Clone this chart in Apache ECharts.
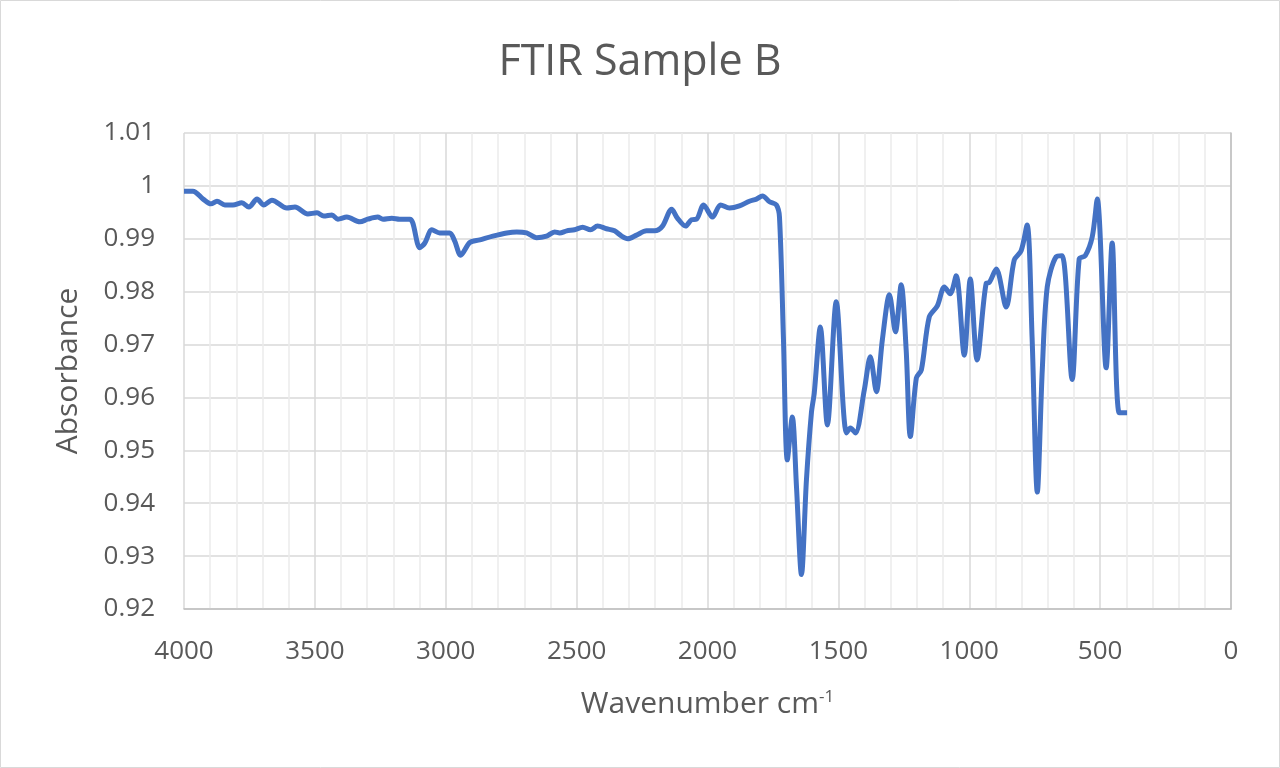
<!DOCTYPE html>
<html>
<head>
<meta charset="utf-8">
<script src="https://cdn.jsdelivr.net/npm/echarts@6/dist/echarts.min.js"></script>
<style>html,body{margin:0;padding:0;background:#fff}#c{width:1280px;height:768px}</style>
</head>
<body>
<div id="c"></div>
<script>
const wavenumbers = [4000,3966,3927,3897,3874,3844,3813,3779,3752,3721,3695,3664,3607,3576,3527,3492,3466,3435,3412,3378,3328,3298,3260,3240,3206,3176,3137,3126,3099,3080,3053,3023,2985,2966,2943,2908,2870,2820,2767,2729,2691,2653,2615,2584,2565,2538,2508,2477,2447,2420,2386,2355,2328,2305,2271,2233,2202,2172,2137,2115,2084,2061,2042,2015,1981,1950,1916,1878,1840,1813,1790,1763,1737,1725,1710,1695,1676,1660,1641,1622,1603,1592,1569,1542,1508,1469,1454,1435,1401,1378,1355,1332,1305,1282,1260,1241,1225,1202,1183,1153,1122,1095,1073,1050,1019,996,970,935,924,897,859,828,802,779,760,740,721,702,668,645,607,580,557,530,511,477,454,427,397];
const absorbance = [0.999,0.999,0.9975,0.9966,0.9971,0.9964,0.9964,0.9968,0.996,0.9975,0.9964,0.9973,0.9958,0.996,0.9947,0.9949,0.9943,0.9945,0.9937,0.9941,0.9932,0.9937,0.9941,0.9937,0.9939,0.9937,0.9937,0.993,0.9883,0.9892,0.9917,0.9911,0.9911,0.9896,0.9869,0.9893,0.9898,0.9905,0.9911,0.9913,0.9911,0.9902,0.9905,0.9913,0.9911,0.9915,0.9917,0.9922,0.9917,0.9924,0.9919,0.9915,0.9905,0.99,0.9907,0.9915,0.9915,0.9924,0.9956,0.9939,0.9924,0.9936,0.9937,0.9964,0.9941,0.9964,0.9958,0.9962,0.9971,0.9975,0.9981,0.997,0.9964,0.9941,0.9714,0.9482,0.9563,0.9431,0.9265,0.9444,0.9571,0.9609,0.9733,0.9548,0.9781,0.9533,0.9542,0.9533,0.9614,0.9677,0.9611,0.9709,0.9794,0.9724,0.9813,0.969,0.9526,0.9637,0.9652,0.9752,0.9773,0.9809,0.9796,0.983,0.968,0.9824,0.9671,0.9816,0.9817,0.9843,0.9771,0.986,0.9877,0.9926,0.9714,0.9421,0.9652,0.9809,0.9866,0.9868,0.9634,0.9862,0.9868,0.9904,0.9975,0.9656,0.9892,0.9571,0.9571];
const titleText = 'FTIR Sample B';
const xName = 'Wavenumber cm{sup|-1}';
const yName = 'Absorbance';

const FONT = '"Open Sans", "Noto Sans", sans-serif';
const TXT = '#595959';
const chart = echarts.init(document.getElementById('c'), null, {renderer: 'canvas'});
chart.setOption({
  animation: false,
  backgroundColor: '#fff',
  title: {
    text: titleText, left: 'center', top: 36,
    textStyle: {fontFamily: FONT, fontSize: 43, fontWeight: 'normal', color: TXT}
  },
  graphic: [{
    type: 'rect', silent: true,
    shape: {x: 0.5, y: 0.5, width: 1279, height: 767},
    style: {fill: 'none', stroke: '#d9d9d9', lineWidth: 1}
  }],
  grid: {left: 184, right: 49, top: 133, bottom: 159, containLabel: false},
  xAxis: {
    type: 'value', inverse: true, min: 0, max: 4000, interval: 500,
    name: xName, nameLocation: 'middle', nameGap: 80,
    nameTextStyle: {
      fontFamily: FONT, fontSize: 30, color: TXT,
      rich: {sup: {fontFamily: FONT, fontSize: 17, color: TXT, verticalAlign: 'top', padding: [0, 0, 14, 0]}}
    },
    axisLine: {show: true, lineStyle: {color: '#bfbfbf', width: 1.5}},
    axisTick: {show: false},
    axisLabel: {fontFamily: FONT, fontSize: 26, color: TXT, margin: 30,
      formatter: v => String(v)},
    splitLine: {show: true, lineStyle: {color: '#d9d9d9', width: 1.5}},
    minorTick: {show: false, splitNumber: 5},
    minorSplitLine: {show: true, lineStyle: {color: '#ececec', width: 1.5}}
  },
  yAxis: {
    type: 'value', min: 0.92, max: 1.01, interval: 0.01,
    name: yName, nameLocation: 'middle', nameGap: 101,
    nameTextStyle: {fontFamily: FONT, fontSize: 30, color: TXT},
    axisLine: {show: true, lineStyle: {color: '#bfbfbf', width: 1.5}},
    axisTick: {show: false},
    axisLabel: {fontFamily: FONT, fontSize: 26, color: TXT, margin: 29,
      formatter: v => String(+v.toFixed(2))},
    splitLine: {show: true, lineStyle: {color: '#d9d9d9', width: 1.5}}
  },
  series: [{
    type: 'line',
    data: wavenumbers.map((w, i) => [w, absorbance[i]]),
    showSymbol: false, symbol: 'none',
    smooth: 0.3,
    lineStyle: {color: '#4472C4', width: 5},
    itemStyle: {color: '#4472C4'}
  }]
});
</script>
</body>
</html>
